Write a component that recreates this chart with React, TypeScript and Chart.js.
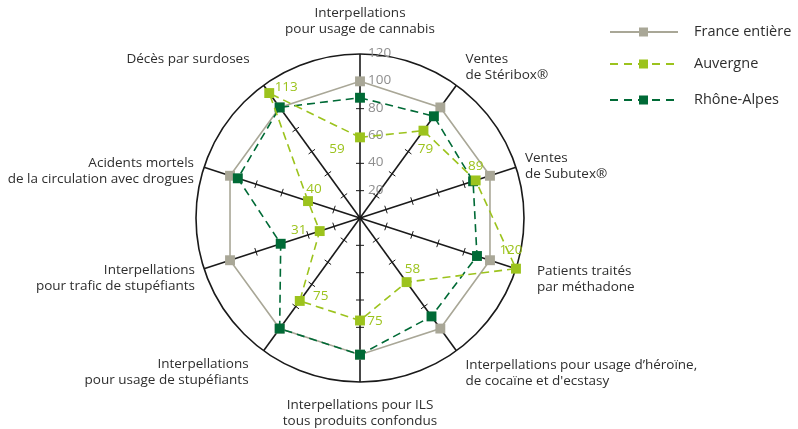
import React, { useEffect, useRef } from "react";
import { Chart, registerables } from "chart.js";

Chart.register(...registerables);

const CATEGORIES: string[][] = [
  ["Interpellations", "pour usage de cannabis"],
  ["Ventes", "de Stéribox®"],
  ["Ventes", "de Subutex®"],
  ["Patients traités", "par méthadone"],
  ["Interpellations pour usage d’héroïne,", "de cocaïne et d'ecstasy"],
  ["Interpellations pour ILS", "tous produits confondus"],
  ["Interpellations", "pour usage de stupéfiants"],
  ["Interpellations", "pour trafic de stupéfiants"],
  ["Acidents mortels", "de la circulation avec drogues"],
  ["Décès par surdoses"],
];

const FRANCE = [100, 100, 100, 100, 100, 100, 100, 100, 100, 100];
const AUVERGNE = [59, 79, 89, 120, 58, 75, 75, 31, 40, 113];
const RHONE_ALPES = [88, 92, 87, 90, 89, 100, 100, 61, 94, 100];

const SERIES_NAMES = ["France entière", "Auvergne", "Rhône-Alpes"];
const TICK_VALUES = [20, 40, 60, 80, 100, 120];

// layout (label placement relative to spoke ends / points)
const LABEL_LAYOUT: { dx: number; dy: number; align: CanvasTextAlign }[] = [
  { dx: 0, dy: -41, align: "center" },
  { dx: 9, dy: -26, align: "left" },
  { dx: 9, dy: -9, align: "left" },
  { dx: 21, dy: 2, align: "left" },
  { dx: 9, dy: 14, align: "left" },
  { dx: 0, dy: 23, align: "center" },
  { dx: -15, dy: 13, align: "right" },
  { dx: -9, dy: 1, align: "right" },
  { dx: -10, dy: -4, align: "right" },
  { dx: -14, dy: -26, align: "right" },
];
const VALUE_OFFSETS: [number, number][] = [
  [-23, 12], [2, 19], [0, -14], [-5, -19], [6, -13],
  [15, 1], [21, -5], [-21, -1], [6, -12], [17, -6],
];

const GRAY = "#a9a797";
const LIME = "#9cc31d";
const DARK = "#006a36";
const INK = "#1a1a1a";
const TEXT = "#2e2e2e";
const FONT = "'Open Sans', 'Noto Sans', sans-serif";

const overlay = {
  id: "overlay",
  beforeDatasetsDraw(chart: any) {
    const ctx: CanvasRenderingContext2D = chart.ctx;
    const s = chart.scales.r;
    const n = CATEGORIES.length;
    ctx.save();
    ctx.strokeStyle = INK;
    ctx.lineWidth = 1;
    for (let i = 0; i < n; i++) {
      const ang = s.getIndexAngle(i) - Math.PI / 2;
      const px = -Math.sin(ang);
      const py = Math.cos(ang);
      for (const v of TICK_VALUES.slice(0, -1)) {
        const p = s.getPointPositionForValue(i, v);
        ctx.beginPath();
        ctx.moveTo(p.x - px * 4, p.y - py * 4);
        ctx.lineTo(p.x + px * 4, p.y + py * 4);
        ctx.stroke();
      }
    }
    ctx.fillStyle = INK;
    ctx.beginPath();
    ctx.arc(s.xCenter, s.yCenter, 2.2, 0, Math.PI * 2);
    ctx.fill();
    // tick labels
    ctx.font = `13.5px ${FONT}`;
    ctx.fillStyle = "#8e8e8e";
    ctx.textAlign = "left";
    ctx.textBaseline = "middle";
    for (const v of TICK_VALUES) {
      const p = s.getPointPositionForValue(0, v);
      ctx.fillText(String(v), p.x + 8, p.y - 1);
    }
    ctx.restore();
  },
  afterDatasetsDraw(chart: any) {
    const ctx: CanvasRenderingContext2D = chart.ctx;
    const s = chart.scales.r;
    ctx.save();
    ctx.font = `13.5px ${FONT}`;
    ctx.fillStyle = LIME;
    ctx.textAlign = "center";
    ctx.textBaseline = "middle";
    AUVERGNE.forEach((v, i) => {
      const p = s.getPointPositionForValue(i, v);
      const [dx, dy] = VALUE_OFFSETS[i];
      ctx.fillText(String(v), p.x + dx, p.y + dy);
    });
    ctx.restore();
  },
  afterDraw(chart: any) {
    const ctx: CanvasRenderingContext2D = chart.ctx;
    const s = chart.scales.r;
    ctx.save();
    ctx.font = `13.5px ${FONT}`;
    ctx.fillStyle = TEXT;
    ctx.textBaseline = "middle";
    CATEGORIES.forEach((lines, i) => {
      const end = s.getPointPositionForValue(i, 120);
      const L = LABEL_LAYOUT[i];
      ctx.textAlign = L.align;
      lines.forEach((t, k) => {
        ctx.fillText(t, end.x + L.dx, end.y + L.dy + k * 16);
      });
    });
    // legend
    const colors = [GRAY, LIME, DARK];
    const dashes = [[], [8, 6], [8, 6]];
    const rows = [32, 64, 100];
    ctx.font = `14.5px ${FONT}`;
    ctx.textAlign = "left";
    SERIES_NAMES.forEach((name, k) => {
      const y = rows[k];
      ctx.strokeStyle = colors[k];
      ctx.lineWidth = 2;
      ctx.setLineDash(dashes[k]);
      ctx.beginPath();
      ctx.moveTo(610, y);
      ctx.lineTo(678, y);
      ctx.stroke();
      ctx.setLineDash([]);
      ctx.fillStyle = colors[k];
      ctx.fillRect(639, y - 4.5, 9, 9);
      ctx.fillStyle = TEXT;
      ctx.fillText(name, 694, y);
    });
    ctx.restore();
  },
};

export default function App() {
  const ref = useRef<HTMLCanvasElement>(null);
  useEffect(() => {
    document.body.style.margin = "0";
    if (!ref.current) return;
    Chart.defaults.font.family = FONT;
    const chart = new Chart(ref.current, {
      type: "radar",
      data: {
        labels: CATEGORIES.map((c) => c.join(" ")),
        datasets: [
          {
            label: SERIES_NAMES[0],
            data: FRANCE,
            borderColor: GRAY,
            backgroundColor: GRAY,
            pointBackgroundColor: GRAY,
            borderWidth: 1.6,
            pointStyle: "rect",
            pointRadius: 7,
            pointBorderWidth: 0,
            fill: false,
            order: 3,
          },
          {
            label: SERIES_NAMES[1],
            data: AUVERGNE,
            borderColor: LIME,
            backgroundColor: LIME,
            pointBackgroundColor: LIME,
            borderWidth: 1.6,
            borderDash: [8, 5],
            pointStyle: "rect",
            pointRadius: 7,
            pointBorderWidth: 0,
            fill: false,
            order: 1,
          },
          {
            label: SERIES_NAMES[2],
            data: RHONE_ALPES,
            borderColor: DARK,
            backgroundColor: DARK,
            pointBackgroundColor: DARK,
            borderWidth: 1.6,
            borderDash: [8, 5],
            pointStyle: "rect",
            pointRadius: 7,
            pointBorderWidth: 0,
            fill: false,
            order: 2,
          },
        ],
      },
      options: {
        responsive: false,
        animation: false,
        devicePixelRatio: 1,
        layout: { padding: { left: 196, right: 274, top: 54, bottom: 47 } },
        plugins: { legend: { display: false }, tooltip: { enabled: false } },
        elements: { line: { tension: 0 } },
        scales: {
          r: {
            min: 0,
            max: 120,
            ticks: { stepSize: 20, display: false },
            grid: {
              circular: true,
              lineWidth: 1.6,
              color: (c: any) => (c.tick && c.tick.value === 120 ? INK : "rgba(0,0,0,0)"),
            },
            angleLines: { color: INK, lineWidth: 1.6 },
            pointLabels: { display: false },
          },
        },
      },
      plugins: [overlay],
    });
    return () => chart.destroy();
  }, []);
  return <canvas ref={ref} width={798} height={429} style={{ display: "block" }} />;
}
